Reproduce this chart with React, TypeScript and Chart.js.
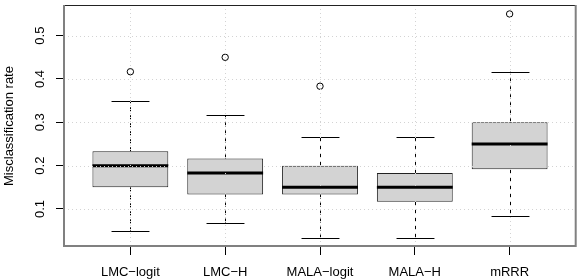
import React, { useEffect, useRef } from "react";
import { Chart, registerables } from "chart.js";

Chart.register(...registerables);

const categories = ["LMC\u2212logit", "LMC\u2212H", "MALA\u2212logit", "MALA\u2212H", "mRRR"];
const lowerWhisker = [0.05, 0.0667, 0.0333, 0.0333, 0.0833];
const q1 = [0.15, 0.1333, 0.1333, 0.1167, 0.1917];
const median = [0.2, 0.1833, 0.15, 0.15, 0.25];
const q3 = [0.2333, 0.2167, 0.2, 0.1833, 0.3];
const upperWhisker = [0.35, 0.3167, 0.2667, 0.2667, 0.4167];
const outlierGroup = [1, 2, 3, 5];
const outlierValue = [0.4167, 0.45, 0.3833, 0.55];
const yTicks = [0.1, 0.2, 0.3, 0.4, 0.5];
const yTickLabels = ["0.1", "0.2", "0.3", "0.4", "0.5"];
const yTitle = "Misclassification rate";
const yMin = 0.0123;
const yMax = 0.5707;

const FONT = "'Liberation Sans', Arial, Helvetica, sans-serif";

const boxPlugin = {
  id: "rBoxplot",
  beforeDatasetsDraw(chart: any) {
    const { ctx, scales } = chart;
    const x = scales.x;
    const y = scales.y;
    ctx.save();
    ctx.strokeStyle = "#000";
    ctx.lineWidth = 1;
    categories.forEach((_, i) => {
      const pos = i + 1;
      const cx = Math.round(x.getPixelForValue(pos)) + 0.5;
      const capHalf = x.getPixelForValue(pos + 0.2) - x.getPixelForValue(pos);
      ctx.setLineDash([4, 4]);
      ctx.beginPath();
      ctx.moveTo(cx, y.getPixelForValue(q3[i]));
      ctx.lineTo(cx, y.getPixelForValue(upperWhisker[i]));
      ctx.moveTo(cx, y.getPixelForValue(q1[i]));
      ctx.lineTo(cx, y.getPixelForValue(lowerWhisker[i]));
      ctx.stroke();
      ctx.setLineDash([]);
      ctx.beginPath();
      const yu = Math.round(y.getPixelForValue(upperWhisker[i])) + 0.5;
      const yl = Math.round(y.getPixelForValue(lowerWhisker[i])) + 0.5;
      ctx.moveTo(cx - capHalf, yu);
      ctx.lineTo(cx + capHalf, yu);
      ctx.moveTo(cx - capHalf, yl);
      ctx.lineTo(cx + capHalf, yl);
      ctx.stroke();
    });
    ctx.restore();
  },
  afterDatasetsDraw(chart: any) {
    const { ctx, scales, chartArea } = chart;
    const x = scales.x;
    const y = scales.y;
    ctx.save();
    // medians
    ctx.strokeStyle = "#000";
    ctx.lineWidth = 3;
    categories.forEach((_, i) => {
      const pos = i + 1;
      const x0 = x.getPixelForValue(pos - 0.4);
      const x1 = x.getPixelForValue(pos + 0.4);
      const ym = y.getPixelForValue(median[i]);
      ctx.beginPath();
      ctx.moveTo(x0, ym);
      ctx.lineTo(x1, ym);
      ctx.stroke();
    });
    // grid on top (lightgray dotted)
    ctx.strokeStyle = "#D3D3D3";
    ctx.lineWidth = 1;
    ctx.setLineDash([1, 3]);
    ctx.beginPath();
    categories.forEach((_, i) => {
      const gx = Math.round(x.getPixelForValue(i + 1)) + 0.5;
      ctx.moveTo(gx, chartArea.top);
      ctx.lineTo(gx, chartArea.bottom);
    });
    yTicks.forEach((v) => {
      const gy = Math.round(y.getPixelForValue(v)) + 0.5;
      ctx.moveTo(chartArea.left, gy);
      ctx.lineTo(chartArea.right, gy);
    });
    ctx.stroke();
    ctx.setLineDash([]);
    // frame
    ctx.fillStyle = "#222";
    ctx.fillRect(chartArea.left, chartArea.top, chartArea.right - chartArea.left, 1);
    ctx.fillStyle = "#808080";
    ctx.fillRect(chartArea.left - 1, chartArea.top, 2, chartArea.bottom - chartArea.top);
    ctx.fillRect(chartArea.right - 1.3, chartArea.top, 2, chartArea.bottom - chartArea.top);
    ctx.fillRect(chartArea.left - 1, chartArea.bottom - 2, chartArea.right - chartArea.left + 1, 2);
    // y tick labels (rotated)
    ctx.fillStyle = "#000";
    ctx.font = `13px ${FONT}`;
    ctx.textAlign = "center";
    ctx.textBaseline = "middle";
    yTicks.forEach((v, i) => {
      ctx.save();
      ctx.translate(40, y.getPixelForValue(v));
      ctx.rotate(-Math.PI / 2);
      ctx.fillText(yTickLabels[i], 0, 0);
      ctx.restore();
    });
    // y title
    ctx.save();
    ctx.translate(9, (chartArea.top + chartArea.bottom) / 2);
    ctx.rotate(-Math.PI / 2);
    ctx.fillText(yTitle, 0, 0);
    ctx.restore();
    ctx.restore();
  },
};

export default function App() {
  const canvasRef = useRef<HTMLCanvasElement | null>(null);

  useEffect(() => {
    if (!canvasRef.current) return;
    const chart = new Chart(canvasRef.current, {
      type: "bar",
      data: {
        datasets: [
          {
            type: "bar",
            order: 2,
            data: categories.map((_, i) => ({ x: i + 1, y: [q1[i], q3[i]] })) as any,
            backgroundColor: "#D3D3D3",
            borderColor: "#222",
            borderWidth: 1,
            borderSkipped: false,
            inflateAmount: 0,
            barPercentage: 0.8,
            categoryPercentage: 1,
          } as any,
          {
            type: "scatter",
            order: 1,
            data: outlierGroup.map((g, i) => ({ x: g, y: outlierValue[i] })),
            showLine: false,
            pointStyle: "circle",
            pointRadius: 3.2,
            pointBorderWidth: 1,
            pointBorderColor: "#000",
            pointBackgroundColor: "rgba(0,0,0,0)",
          } as any,
        ],
      },
      options: {
        animation: false,
        responsive: true,
        maintainAspectRatio: false,
        events: [],
        layout: { padding: { top: 1, right: 1, left: 0, bottom: 0 } },
        plugins: { legend: { display: false }, tooltip: { enabled: false } },
        scales: {
          x: {
            type: "linear",
            min: 0.3,
            max: 5.7,
            offset: false,
            afterBuildTicks: (scale: any) => {
              scale.ticks = categories.map((_, i) => ({ value: i + 1 }));
            },
            afterFit: (scale: any) => {
              scale.height = 32;
            },
            ticks: {
              autoSkip: false,
              maxRotation: 0,
              minRotation: 0,
              padding: 10,
              color: "#000",
              font: { family: FONT, size: 13, lineHeight: 1.2 },
              callback: (v: any) => categories[Number(v) - 1] ?? "",
            },
            grid: {
              offset: false,
              drawOnChartArea: false,
              drawTicks: true,
              tickLength: 8,
              color: "#000",
              tickColor: "#000",
              tickWidth: 1,
            },
            border: { display: false },
          },
          y: {
            type: "linear",
            min: yMin,
            max: yMax,
            afterBuildTicks: (scale: any) => {
              scale.ticks = yTicks.map((v) => ({ value: v }));
            },
            afterFit: (scale: any) => {
              scale.width = 64;
            },
            ticks: { display: false },
            grid: {
              drawOnChartArea: false,
              drawTicks: true,
              tickLength: 8,
              color: "#000",
              tickColor: "#000",
              tickWidth: 1,
            },
            border: { display: false },
          },
        },
      },
      plugins: [boxPlugin],
    } as any);
    return () => chart.destroy();
  }, []);

  return (
    <div style={{ position: "fixed", left: 0, top: 0, width: 581, height: 279, background: "#fff" }}>
      <canvas ref={canvasRef} />
    </div>
  );
}
